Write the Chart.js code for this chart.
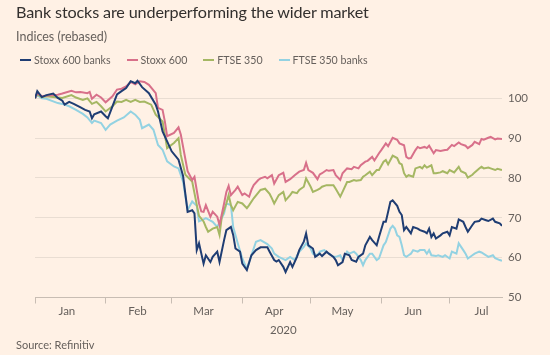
<!DOCTYPE html>
<html>
<head>
<meta charset="utf-8">
<script src="https://cdn.jsdelivr.net/npm/chart.js@4/dist/chart.umd.min.js"></script>
<style>
  html, body { margin: 0; padding: 0; background: #fff1e5; }
  #wrap { position: relative; width: 550px; height: 355px; overflow: hidden; background: #fff1e5; font-family: Lato, "Open Sans", sans-serif; }
  #c { position: absolute; left: 0; top: 0; }
  .title { position: absolute; left: 16px; top: 2px; font-size: 16.2px; letter-spacing: -0.15px; line-height: 20px; color: #33302e; white-space: nowrap; }
  .sub { position: absolute; left: 16px; top: 29px; font-size: 12.5px; line-height: 16px; color: #66605c; white-space: nowrap; }
  #legend { position: absolute; left: 20px; top: 52px; height: 16px; display: flex; align-items: center; font-size: 10.6px; color: #66605c; white-space: nowrap; }
  #legend .item { display: flex; align-items: center; margin-right: 16px; }
  #legend .mk { width: 11px; height: 2.5px; margin-right: 3px; }
  .src { position: absolute; left: 16px; top: 338px; font-size: 11px; line-height: 14px; color: #66605c; white-space: nowrap; }
</style>
</head>
<body>
<div id="wrap">
  <canvas id="c" width="550" height="355"></canvas>
  <div class="title">Bank stocks are underperforming the wider market</div>
  <div class="sub">Indices (rebased)</div>
  <div id="legend"></div>
  <div class="src">Source: Refinitiv</div>
</div>
<script>
// ---- Series metadata ----
const seriesNames = ['Stoxx 600 banks', 'Stoxx 600', 'FTSE 350', 'FTSE 350 banks'];
const seriesColors = ['#1f3d73', '#d8708a', '#a5b763', '#93d2e2'];

// ---- Axis labels (x values are day-of-year 2020, 0 = 1 Jan) ----
const monthNames = ['Jan', 'Feb', 'Mar', 'Apr', 'May', 'Jun', 'Jul'];
const monthStartDays = [0, 31, 60, 91, 121, 152, 182];
const monthMidDays = [14, 45, 74, 105, 135, 166, 196];
const yearLabel = '2020';
const yearLabelDay = 109;
const yTicks = [50, 60, 70, 80, 90, 100];

// ---- Stoxx 600 banks ----
const stoxxBanksDays = [0,1,3,5,8,10,12,13,15,17,20,22,24,25,26,29,31,32,34,36,38,40,42,44,45,47,50,53,54,56,58,60,63,65,67,69,70,71,72,74,75,77,78,80,81,83,84,86,87,88,90,91,93,95,97,99,102,103,105,106,107,109,110,112,113,115,116,118,119,120,122,123,125,126,128,129,131,132,133,135,136,138,139,141,142,144,145,147,148,150,151,153,154,155,156,157,159,160,161,162,163,164,165,166,168,169,171,172,173,174,175,176,178,179,181,182,183,185,186,188,189,190,192,193,195,196,198,199,201,202,204,205];
const stoxxBanksVals = [100,101.8,100.3,100.8,101.2,100.1,99.4,98.4,99.1,98.6,97.7,97.1,96.7,95,96,96.7,95.5,95,98,101,101.8,102.6,104.3,103.8,104.4,102.8,101.3,98.4,96.7,91.7,89.2,86.7,84.6,80.5,71.5,71.9,71.1,61.9,63.6,58.5,60.6,58.9,60.2,61.5,58.9,64.4,66.9,67.7,65.7,62.3,61.5,58.5,56.9,60.6,61.9,62.6,62.6,61.5,59.4,59,59.4,57.7,56.4,58.9,57.7,60.2,61.9,64,66.1,63.1,62.3,60.2,61,60.4,61.5,61,60.2,59.4,58.1,58.9,61,60.6,59.4,59,60.2,61,63.1,65.2,64.4,63.1,65.2,69,69,71.5,74,74.4,73,71.5,70.7,66.9,67.7,66.9,66.1,67.7,67.3,66.9,66.5,66.1,67.3,65.2,66.1,64.8,65.6,66.1,66.5,65.6,67.7,67.3,69.6,69,67.7,66.5,68.2,69,69.2,69.8,69.4,69.2,69.8,69,68.6,68];

// ---- Stoxx 600 ----
const stoxxDays = [0,1,3,7,10,12,16,18,20,23,24,25,27,29,31,34,36,38,40,42,44,46,48,50,53,54,56,57,58,61,63,64,67,69,70,72,73,74,75,77,78,80,81,83,84,85,86,88,89,91,92,94,95,96,98,99,101,102,104,105,107,109,110,112,114,116,118,119,120,122,124,125,126,128,129,131,132,134,135,137,139,140,142,143,145,146,148,149,151,152,154,155,157,159,160,162,163,164,165,167,168,169,171,172,173,175,176,178,180,181,183,184,186,187,189,190,192,193,195,196,197,199,200,202,203,205];
const stoxxVals = [100,101.3,100.5,100.8,100.9,101.2,101.9,101.5,101.6,101.3,101.6,99.9,100.9,100.2,99,100.5,102.2,102.4,103,104.1,103.5,104.3,104.1,103.4,101.3,97.6,97.1,94.2,90.5,91.3,92.7,90.9,81.7,79.5,80.3,73.6,71.6,71.5,73.2,70.3,71.5,70.3,68.2,73.6,76.5,78,75.7,77,77.8,75.7,76.1,75.3,77,78.2,79.5,79.9,80.3,79.9,80.7,78.6,80.7,81.3,79,79.7,80.7,81.6,82,83.8,82,81.3,79.7,80.9,81.2,82,81.8,82,80.7,79.5,81.2,82.4,82.2,82.8,82.4,83.2,84.1,84.3,85.3,84.4,86.2,87,88.7,88,90.1,89.6,88.7,88.2,85.3,84.9,85,87,87.8,87.5,87.8,87.5,88.1,86.2,87,86.8,87,87.1,88.3,88,88.9,88.5,88.1,87.5,88.3,89.1,88.5,89.8,89.6,90.1,90.3,89.7,89.9,89.8];

// ---- FTSE 350 ----
const ftseDays = [0,1,3,5,10,12,16,18,21,23,25,27,29,31,34,36,38,40,42,44,46,48,51,53,56,58,61,63,64,66,69,71,72,74,75,76,78,80,81,82,84,85,86,87,89,91,93,94,96,99,101,103,104,105,107,109,110,112,113,115,116,118,119,121,122,124,125,126,128,129,131,132,134,135,137,138,140,141,143,144,145,147,148,150,151,153,154,155,157,159,160,161,162,163,164,166,167,169,170,171,172,174,175,176,178,179,181,182,184,186,187,189,190,192,193,195,196,197,199,200,202,203,205];
const ftseVals = [100,101,100.3,100.5,100.2,100.1,100.8,100.2,99.6,100,98.6,99.1,98,96.7,98,99.2,99.1,99.6,99.1,99.6,99.1,99.2,98.4,95.9,94.2,87.5,88.8,90,85.8,80.8,79.1,73.3,70.5,69.1,67.7,66.5,67.3,67.7,65.7,70.3,73.6,75.7,73.2,71.9,74,73.6,72.4,73.2,74.9,77,77.3,76,74.9,73.6,75.7,76.5,74.4,75.7,76.5,76.2,77,77.8,79.9,77.8,76.5,77,77.3,77.8,78.2,78.2,78.2,77.3,75.3,76.5,79,79,79.5,79.3,79.5,80.3,80.7,81.6,80.7,82,82,84.1,84.5,83.4,85.6,85,83.7,83.4,81.2,80.3,80.7,80.3,82.4,82.8,82.4,83.2,82.6,83.2,81.2,81.2,81.4,81.7,81.2,82,81.4,82.8,81.7,81.2,80.1,80.8,81.4,82.4,82.8,82.4,82.6,82.4,82,82.3,82];

// ---- FTSE 350 banks ----
const ftseBanksDays = [0,1,3,5,10,12,15,18,21,23,25,26,29,31,33,36,39,42,44,46,47,50,52,54,56,58,61,63,65,67,69,71,72,74,75,78,80,83,84,86,87,89,91,93,95,97,99,102,104,105,107,110,112,114,116,118,119,121,122,124,125,127,129,131,132,134,135,137,138,140,141,143,144,145,147,148,150,151,153,154,156,157,158,159,160,161,162,163,164,165,166,168,169,171,172,173,174,176,177,179,180,182,183,185,186,188,189,190,192,193,195,196,198,199,201,202,204,205];
const ftseBanksVals = [100,100.8,100,99.9,98.8,98.6,98,97.1,96.1,95.2,93.8,94.4,93.8,92.1,93.4,94.4,95.2,96.7,95.9,94.6,92.5,93.4,92.1,88.3,87.1,84.2,82.9,82.4,79.1,72,74.1,73,69.1,69.6,69.9,69,67.7,71.1,73.6,73.2,67.7,63.6,59.8,57.2,60.6,64,64.4,63.4,62.3,61,60.2,59.4,60.2,59.4,61.5,62.7,63.6,62.3,61,60.6,61.5,61.9,61,60.2,60.2,60.6,59.4,61.5,61,61.5,61,59.4,58.1,59.4,61,61,59.4,59.8,63.1,63.9,67.3,68,67.3,65.6,65.2,63.1,60.6,60.2,60.6,61,61.9,61.5,61.9,61.9,61,61.9,60.6,60.4,60.6,60.2,60.6,59.8,61.5,61,63.6,61.9,61,59.8,60.6,61,61.5,61.3,60.6,60.2,60.6,59.9,59.4,59.2];

const seriesDays = [stoxxBanksDays, stoxxDays, ftseDays, ftseBanksDays];
const seriesVals = [stoxxBanksVals, stoxxVals, ftseVals, ftseBanksVals];

const textColor = '#66605c';
const gridColor = '#e9ddd2';
const axisColor = '#c8bdb3';
const tickFont = { family: 'Lato, "Open Sans", sans-serif', size: 11.5 };

const datasets = seriesNames.map((name, i) => ({
  label: name,
  data: seriesDays[i].map((d, j) => ({ x: d, y: seriesVals[i][j] })),
  borderColor: seriesColors[i],
  backgroundColor: seriesColors[i],
  borderWidth: 2,
  pointRadius: 0,
  tension: 0,
  fill: false
}));

const chart = new Chart(document.getElementById('c'), {
  type: 'line',
  data: { datasets },
  options: {
    responsive: false,
    animation: false,
    events: [],
    layout: { padding: { top: 78.4, left: 35, right: 0, bottom: 17.5 } },
    plugins: { legend: { display: false }, title: { display: false }, tooltip: { enabled: false } },
    scales: {
      x: {
        type: 'linear', position: 'bottom', min: 0, max: 205,
        afterBuildTicks: s => {
          s.ticks = monthStartDays.concat(monthMidDays).sort((a, b) => a - b).map(v => ({ value: v }));
        },
        ticks: {
          autoSkip: false, maxRotation: 0, minRotation: 0, padding: 1,
          color: textColor, font: tickFont,
          callback: v => { const i = monthMidDays.indexOf(v); return i >= 0 ? monthNames[i] : ''; }
        },
        grid: {
          drawOnChartArea: false, drawTicks: true, tickLength: 6, tickWidth: 1,
          tickColor: ctx => (ctx.tick && monthStartDays.includes(ctx.tick.value)) ? axisColor : 'rgba(0,0,0,0)',
          color: 'rgba(0,0,0,0)'
        },
        border: { display: true, color: axisColor, width: 1 },
        afterFit: s => { s.height = 24; }
      },
      xYear: {
        type: 'linear', position: 'bottom', min: 0, max: 205,
        afterBuildTicks: s => { s.ticks = [{ value: yearLabelDay }]; },
        ticks: { autoSkip: false, maxRotation: 0, padding: 2, color: textColor, font: tickFont, callback: () => yearLabel },
        grid: { display: false, drawTicks: false },
        border: { display: false },
        afterFit: s => { s.height = 16; }
      },
      y: {
        position: 'right', min: 50, max: 105,
        afterBuildTicks: s => { s.ticks = yTicks.map(v => ({ value: v })); },
        ticks: { padding: 6, color: textColor, font: tickFont },
        grid: { color: gridColor, drawTicks: false, lineWidth: 1 },
        border: { display: false },
        afterFit: s => { s.width = 48; }
      }
    }
  }
});

// HTML legend built from the chart's datasets
const legendEl = document.getElementById('legend');
chart.data.datasets.forEach(ds => {
  const item = document.createElement('div');
  item.className = 'item';
  const mk = document.createElement('span');
  mk.className = 'mk';
  mk.style.background = ds.borderColor;
  const tx = document.createElement('span');
  tx.textContent = ds.label;
  item.appendChild(mk);
  item.appendChild(tx);
  legendEl.appendChild(item);
});
</script>
</body>
</html>
